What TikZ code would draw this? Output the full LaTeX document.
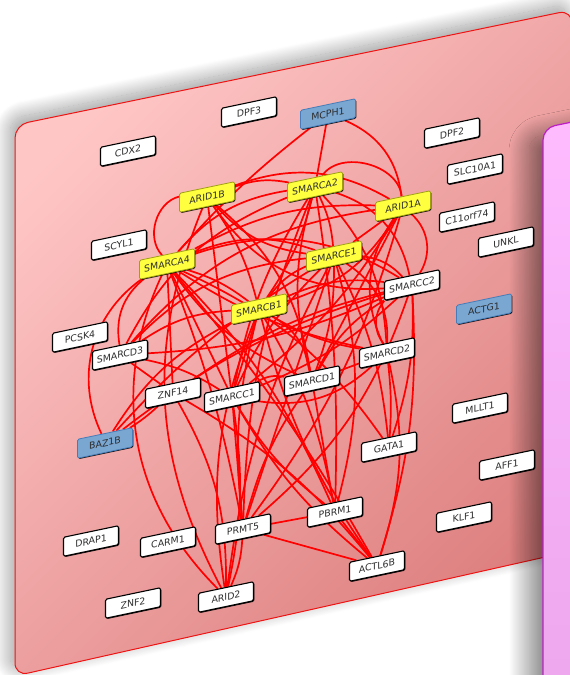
\documentclass[tikz,border=0pt]{standalone}
\usepackage{fontspec}
\setmainfont{DejaVu Sans}
\usetikzlibrary{shadows,shadows.blur}

\definecolor{planelight}{RGB}{255,198,198}
\definecolor{planedark}{RGB}{222,128,128}
\definecolor{planeline}{RGB}{238,20,20}
\definecolor{sidelight}{RGB}{255,188,255}
\definecolor{sidedark}{RGB}{236,166,236}
\definecolor{sideline}{RGB}{190,30,200}
\definecolor{corefill}{RGB}{255,255,64}
\definecolor{coreline}{RGB}{160,160,20}
\definecolor{seedfill}{RGB}{122,166,210}
\definecolor{seedline}{RGB}{70,125,185}
\definecolor{labeltext}{RGB}{45,45,45}

\pgfdeclarelayer{planes}
\pgfdeclarelayer{links}
\pgfsetlayers{planes,links,main}

\tikzset{
	genebox/.style={draw=black, line width=1.1pt, fill=white, rounded corners=1.5pt,
		minimum width=55pt, minimum height=19pt, inner sep=0pt, yslant=0.21,
		text=labeltext, font=\fontsize{9.4}{10}\selectfont,
		drop shadow={shadow xshift=0.9pt, shadow yshift=-0.9pt, opacity=0.9, fill=black}},
	corebox/.style={genebox, draw=coreline, line width=0.8pt, fill=corefill, drop shadow={opacity=0}},
	seedbox/.style={genebox, draw=seedline, line width=0.8pt, fill=seedfill, drop shadow={opacity=0}},
	ppi/.style={draw=red, line width=1.7pt},
}

\begin{document}
\begin{tikzpicture}[x=1pt, y=-1pt]
			\useasboundingbox (0, 0) rectangle (570, 675);
			
			%%%%% PLANES %%%%%
			\begin{pgfonlayer}{planes}
			\shadedraw[blur shadow={shadow xshift=-5pt, shadow yshift=6pt, shadow blur radius=16pt, shadow blur steps=40, shadow opacity=40},
				top color=planelight, bottom color=planedark, shading angle=45,
				draw=planeline, line width=1pt, rounded corners=13pt]
				(15, 125) -- (572, 10) -- (572, 551) -- (15, 676) -- cycle;
			\shadedraw[blur shadow={shadow xshift=-14pt, shadow yshift=-10pt, shadow blur radius=20pt, shadow blur steps=40, shadow opacity=50},
				top color=sidelight, bottom color=sidedark,
				draw=sideline, line width=1.2pt, rounded corners=12pt]
				(543, 128) -- (650, 106) -- (650, 720) -- (543, 742) -- cycle;
			\end{pgfonlayer}
			
			%%%%% GENES %%%%%
			\node[genebox] (cdx2) at (128, 151) {CDX2};
			\node[genebox] (dpf3) at (249, 112) {DPF3};
			\node[seedbox] (mcph1) at (328, 114) {MCPH1};
			\node[genebox] (dpf2) at (452, 133) {DPF2};
			\node[genebox] (slc10a1) at (475, 169) {SLC10A1};
			\node[corebox] (arid1b) at (207, 197) {ARID1B};
			\node[corebox] (smarca2) at (315, 187) {SMARCA2};
			\node[corebox] (arid1a) at (403, 206) {ARID1A};
			\node[genebox] (c11orf74) at (467, 217) {C11orf74};
			\node[genebox] (unkl) at (506, 242) {UNKL};
			\node[genebox] (scyl1) at (119, 245) {SCYL1};
			\node[corebox] (smarca4) at (167, 264) {SMARCA4};
			\node[corebox] (smarce1) at (334, 256) {SMARCE1};
			\node[genebox] (smarcc2) at (412, 285) {SMARCC2};
			\node[seedbox] (actg1) at (484, 309) {ACTG1};
			\node[corebox] (smarcb1) at (259, 309) {SMARCB1};
			\node[genebox] (pcsk4) at (80, 337) {PCSK4};
			\node[genebox] (smarcd3) at (120, 355) {SMARCD3};
			\node[genebox] (smarcd2) at (387, 353) {SMARCD2};
			\node[genebox] (znf14) at (173, 393) {ZNF14};
			\node[genebox] (smarcc1) at (232, 397) {SMARCC1};
			\node[genebox] (smarcd1) at (312, 381) {SMARCD1};
			\node[genebox] (mllt1) at (480, 408) {MLLT1};
			\node[seedbox] (baz1b) at (105, 443) {BAZ1B};
			\node[genebox] (gata1) at (389, 447) {GATA1};
			\node[genebox] (aff1) at (507, 465) {AFF1};
			\node[genebox] (pbrm1) at (335, 512) {PBRM1};
			\node[genebox] (klf1) at (464, 517) {KLF1};
			\node[genebox] (drap1) at (91, 541) {DRAP1};
			\node[genebox] (carm1) at (168, 542) {CARM1};
			\node[genebox] (prmt5) at (243, 529) {PRMT5};
			\node[genebox] (actl6b) at (377, 566) {ACTL6B};
			\node[genebox] (znf2) at (133, 603) {ZNF2};
			\node[genebox] (arid2) at (226, 597) {ARID2};
			
			%%%%% LINKS %%%%%
			\begin{pgfonlayer}{links}
			\draw[ppi] (mcph1) to[bend right=5] (smarca4);
			\draw[ppi] (mcph1) -- (smarca2);
			\draw[ppi] (mcph1) to[bend left=30] (arid1a);
			\draw[ppi] (smarca2) to[bend left=70] (arid1a);
			\draw[ppi] (arid1b) to[bend left=15] (smarca2);
			\draw[ppi] (arid1b) to[bend left=25] (arid1a);
			\draw[ppi] (arid1b) to[bend right=60] (smarca4);
			\draw[ppi] (arid1b) to[bend left=10] (smarcb1);
			\draw[ppi] (arid1b) to[bend right=20] (smarce1);
			\draw[ppi] (arid1b) to (smarcc1);
			\draw[ppi] (arid1b) to[bend right=30] (smarcc2);
			\draw[ppi] (arid1b) to[bend left=20] (smarcd1);
			\draw[ppi] (arid1b) to[bend right=25] (arid2);
			\draw[ppi] (smarca2) to[bend right=20] (smarca4);
			\draw[ppi] (smarca2) to[bend left=10] (smarce1);
			\draw[ppi] (smarca2) to[bend left=10] (smarcb1);
			\draw[ppi] (smarca2) to[bend right=10] (smarcc1);
			\draw[ppi] (smarca2) to[bend left=30] (smarcc2);
			\draw[ppi] (smarca2) to[bend right=15] (smarcd1);
			\draw[ppi] (smarca2) to[bend right=20] (smarcd3);
			\draw[ppi] (smarca2) to[bend right=10] (prmt5);
			\draw[ppi] (smarca2) to[bend left=5] (pbrm1);
			\draw[ppi] (smarca2) to[bend left=20] (smarcd2);
			\draw[ppi] (arid1a) to[bend right=15] (smarca4);
			\draw[ppi] (arid1a) -- (smarce1);
			\draw[ppi] (arid1a) to[bend left=20] (smarcb1);
			\draw[ppi] (arid1a) to[bend left=40] (smarcc2);
			\draw[ppi] (arid1a) to[bend left=10] (smarcc1);
			\draw[ppi] (arid1a) to[bend right=30] (smarcd2);
			\draw[ppi] (arid1a) to (smarcd1);
			\draw[ppi] (arid1a) to[bend left=10] (prmt5);
			\draw[ppi] (arid1a) to[bend right=20] (smarcd3);
			\draw[ppi] (smarca4) to[bend left=20] (smarce1);
			\draw[ppi] (smarca4) to[bend left=10] (smarcb1);
			\draw[ppi] (smarca4) to[bend left=25] (smarcc2);
			\draw[ppi] (smarca4) to (smarcc1);
			\draw[ppi] (smarca4) to[bend right=15] (smarcd1);
			\draw[ppi] (smarca4) to[bend right=10] (smarcd2);
			\draw[ppi] (smarca4) to[bend right=30] (smarcd3);
			\draw[ppi] (smarca4) to[bend left=5] (prmt5);
			\draw[ppi] (smarca4) to[bend left=10] (pbrm1);
			\draw[ppi] (smarca4) to[bend left=5] (actl6b);
			\draw[ppi] (smarca4) to[bend right=35] (arid2);
			\draw[ppi] (smarca4) to[bend right=40] (baz1b);
			\draw[ppi] (smarca4) to (znf14);
			\draw[ppi] (smarca4) to[bend left=15] (gata1);
			\draw[ppi] (smarce1) to[bend right=15] (smarcb1);
			\draw[ppi] (smarce1) to[bend left=20] (smarcc2);
			\draw[ppi] (smarce1) to[bend right=10] (smarcc1);
			\draw[ppi] (smarce1) to[bend left=10] (smarcd1);
			\draw[ppi] (smarce1) to[bend left=30] (smarcd2);
			\draw[ppi] (smarce1) to[bend right=20] (smarcd3);
			\draw[ppi] (smarce1) to (prmt5);
			\draw[ppi] (smarce1) to[bend left=15] (pbrm1);
			\draw[ppi] (smarce1) to[bend right=10] (arid2);
			\draw[ppi] (smarce1) to[bend left=10] (gata1);
			\draw[ppi] (smarce1) to[bend right=8] (baz1b);
			\draw[ppi] (smarcb1) to[bend left=15] (smarcc2);
			\draw[ppi] (smarcb1) to (smarcc1);
			\draw[ppi] (smarcb1) to[bend left=25] (smarcd1);
			\draw[ppi] (smarcb1) to[bend right=10] (smarcd2);
			\draw[ppi] (smarcb1) to[bend right=15] (smarcd3);
			\draw[ppi] (smarcb1) to[bend right=10] (prmt5);
			\draw[ppi] (smarcb1) to[bend left=10] (pbrm1);
			\draw[ppi] (smarcb1) to[bend right=10] (actl6b);
			\draw[ppi] (smarcb1) to[bend right=15] (arid2);
			\draw[ppi] (smarcb1) to[bend right=15] (baz1b);
			\draw[ppi] (smarcc2) to[bend left=10] (smarcc1);
			\draw[ppi] (smarcc2) to[bend right=15] (smarcd1);
			\draw[ppi] (smarcc2) to[bend right=40] (smarcd2);
			\draw[ppi] (smarcc2) to[bend left=10] (smarcd3);
			\draw[ppi] (smarcc2) to[bend left=15] (prmt5);
			\draw[ppi] (smarcc2) to[bend left=10] (actl6b);
			\draw[ppi] (smarcc2) to[bend right=10] (znf14);
			\draw[ppi] (smarcc2) to[bend right=10] (baz1b);
			\draw[ppi] (smarcc2) to[bend left=10] (gata1);
			\draw[ppi] (smarcc1) to[bend left=20] (smarcd1);
			\draw[ppi] (smarcc1) to[bend right=10] (smarcd3);
			\draw[ppi] (smarcc1) to (prmt5);
			\draw[ppi] (smarcc1) to[bend right=10] (pbrm1);
			\draw[ppi] (smarcc1) to[bend right=10] (actl6b);
			\draw[ppi] (smarcc1) to[bend left=10] (arid2);
			\draw[ppi] (smarcc1) to[bend right=25] (smarcd2);
			\draw[ppi] (smarcd1) -- (pbrm1);
			\draw[ppi] (smarcd1) -- (smarcd2);
			\draw[ppi] (smarcd1) to[bend right=10] (prmt5);
			\draw[ppi] (smarcd2) to[bend left=5] (gata1);
			\draw[ppi] (smarcd2) to[bend left=15] (actl6b);
			\draw[ppi] (smarcd3) -- (znf14);
			\draw[ppi] (znf14) to[bend left=5] (baz1b);
			\draw[ppi] (znf14) to[bend left=15] (arid2);
			\draw[ppi] (znf14) to[bend left=10] (actl6b);
			\draw[ppi] (prmt5) -- (pbrm1);
			\draw[ppi] (prmt5) -- (actl6b);
			\draw[ppi] (prmt5) to[bend left=10] (arid2);
			\draw[ppi] (pbrm1) -- (actl6b);
			\end{pgfonlayer}
			
\end{tikzpicture}
\end{document}
